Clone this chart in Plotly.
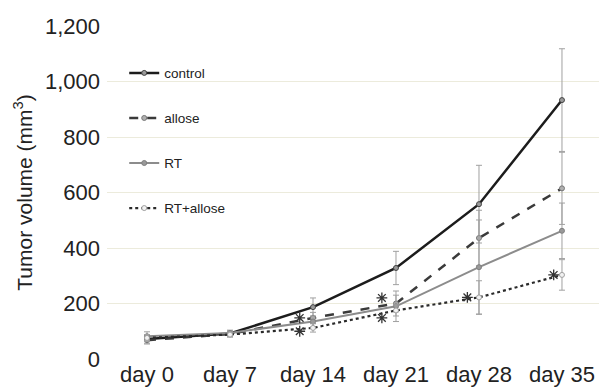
import plotly.graph_objects as go

days = ["day 0", "day 7", "day 14", "day 21", "day 28", "day 35"]
y_ticks = [0, 200, 400, 600, 800, 1000, 1200]
y_tick_text = ["0", "200", "400", "600", "800", "1,000", "1,200"]

control = [72, 92, 187, 328, 558, 933]
control_err = [15, 10, 33, 60, 140, 185]
allose = [68, 90, 148, 200, 436, 615]
allose_err = [14, 10, 20, 30, 100, 130]
rt = [82, 94, 135, 190, 331, 462]
rt_err = [16, 10, 20, 55, 170, 100]
rt_allose = [76, 88, 112, 175, 222, 303]
rt_allose_err = [12, 9, 15, 20, 60, 55]

# significance asterisks: (day index, value level, horizontal offset from the day)
star_idx = [2, 2, 3, 3, 4, 5]
star_val = [148, 100, 220, 148, 222, 303]
star_dx = [-0.16, -0.16, -0.17, -0.17, -0.14, -0.1]

x = list(range(len(days)))

fig = go.Figure()

def add(name, y, err, color, dash, width, mcolor, mline):
    fig.add_trace(go.Scatter(
        x=x, y=y, name=name, mode="lines+markers", legendgroup=name,
        line=dict(color=color, dash=dash, width=width),
        marker=dict(size=5, color=mcolor, line=dict(color=mline, width=1)),
        error_y=dict(type="data", array=err, visible=True, color="#a0a0a0",
                     thickness=1, width=3),
    ))

add("control", control, control_err, "#1c1c1c", "solid", 2.5, "#9a9a9a", "#444444")
add("allose", allose, allose_err, "#3a3a3a", "dash", 2.5, "#b0b0b0", "#777777")
add("RT", rt, rt_err, "#8c8c8c", "solid", 2, "#999999", "#808080")
add("RT+allose", rt_allose, rt_allose_err, "#2a2a2a", "dot", 2.2, "#f2f2f2", "#a0a0a0")

fig.add_trace(go.Scatter(
    x=[star_idx[i] + star_dx[i] for i in range(len(star_idx))],
    y=star_val, mode="markers", showlegend=False, hoverinfo="skip",
    marker=dict(symbol="asterisk-open", size=9, color="#333333",
                line=dict(color="#333333", width=1.3)),
))

fig.update_layout(
    width=599, height=387,
    margin=dict(l=107, r=0, t=26, b=28),
    paper_bgcolor="white", plot_bgcolor="white",
    font=dict(family="Liberation Sans, Arial, sans-serif", color="#222222"),
    showlegend=True,
    legend=dict(x=0.035, y=0.905, xanchor="left", yanchor="top",
                bgcolor="rgba(0,0,0,0)", font=dict(size=13.5, color="#222222"),
                traceorder="grouped", tracegroupgap=24.5, itemwidth=30),
    xaxis=dict(range=[-0.482, 5.446], tickmode="array", tickvals=x, ticktext=days,
               showgrid=False, zeroline=False, showline=False, ticks="",
               ticklabelstandoff=0, automargin=False,
               tickfont=dict(size=22, color="#222222")),
    yaxis=dict(range=[0, 1200], tickmode="array", tickvals=y_ticks, ticktext=y_tick_text,
               showgrid=True, gridcolor="#ecebdc", gridwidth=1, zeroline=False,
               showline=False, ticks="", ticklabelstandoff=6, automargin=False,
               tickfont=dict(size=22, color="#222222"),
               title=dict(text="Tumor volume (mm<sup>3</sup>)", font=dict(size=21, color="#222222"),
                          standoff=6)),
)

fig.write_html("out.html")
